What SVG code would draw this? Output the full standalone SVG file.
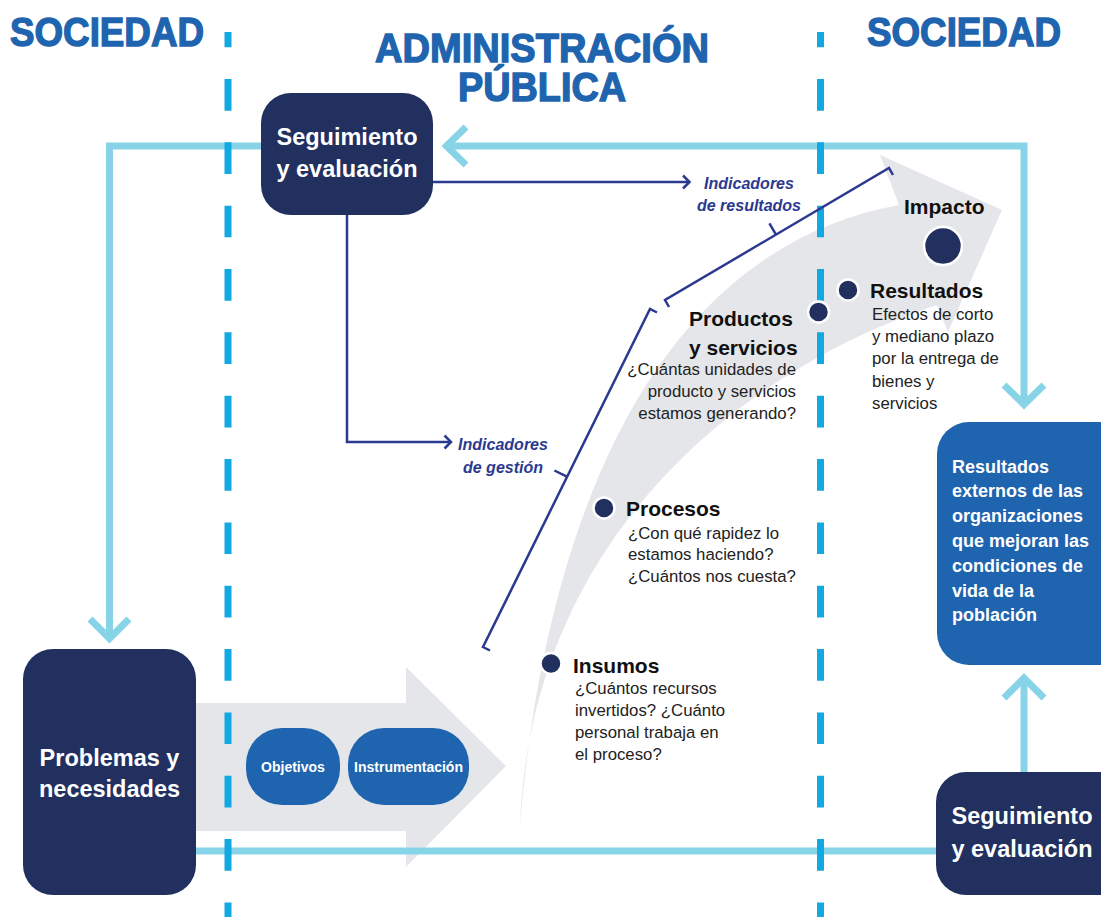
<svg xmlns="http://www.w3.org/2000/svg" width="1101" height="917" viewBox="0 0 1101 917">
<style>
.lb{stroke:#87D3E8;stroke-width:7;fill:none}
.dash{stroke:#12A8E1;stroke-width:7;stroke-dasharray:31.67 31.67;fill:none}
.db{stroke:#2B3990;stroke-width:2.5;fill:none}
.navy{fill:#21305F}
.blue{fill:#1F64AE}
.gray{fill:#E5E6EA}
.title{font-family:"Liberation Sans",Arial,sans-serif;font-weight:700;fill:#1F64AE;stroke:#1F64AE;stroke-width:1.4;font-size:41px}
.wb{font-family:"Liberation Sans",Arial,sans-serif;font-weight:700;fill:#FFFFFF}
.kb{font-family:"Liberation Sans",Arial,sans-serif;font-weight:700;fill:#111111;font-size:21px}
.kr{font-family:"Liberation Sans",Arial,sans-serif;font-weight:400;fill:#222222;font-size:16.8px}
.ind{font-family:"Liberation Sans",Arial,sans-serif;font-weight:700;font-style:italic;fill:#2B3990;font-size:16px}
.dot{fill:#21305F;stroke:#FFFFFF;stroke-width:2.5}
</style>

<g id="titles">
<text class="title" x="10" y="46" textLength="194" lengthAdjust="spacingAndGlyphs">SOCIEDAD</text>
<text class="title" x="867" y="46" textLength="194" lengthAdjust="spacingAndGlyphs">SOCIEDAD</text>
<text class="title" x="375" y="62" textLength="334" lengthAdjust="spacingAndGlyphs">ADMINISTRACIÓN</text>
<text class="title" x="458" y="101" textLength="168" lengthAdjust="spacingAndGlyphs">PÚBLICA</text>
</g>

<g id="shapes">
<polygon class="gray" points="196,703 406,703 406,667 506,766 406,867 406,831 196,831"/>
<path class="gray" d="M520,826 C535,640 600,260 899,205 L880,155 L1002,210 L948,332 L937,305 C740,370 530,540 520,826 Z"/>
</g>

<g id="connectors">
<path class="lb" d="M261,146 H109.5 V637"/>
<polyline class="lb" points="90,619 109.5,638.5 129,619"/>
<path class="lb" d="M449,146 H1024 V403"/>
<polyline class="lb" points="466,127 446.5,146 466,165"/>
<polyline class="lb" points="1004,385 1024,404.5 1044,385"/>
<path class="lb" d="M196,851 H937"/>
<path class="lb" d="M1024,772 V680"/>
<polyline class="lb" points="1004,698 1024,678 1044,698"/>

<line class="dash" x1="228" y1="32" x2="228" y2="917" stroke-dashoffset="16.33"/>
<line class="dash" x1="820.5" y1="32" x2="820.5" y2="917" stroke-dashoffset="16.33"/>

<path class="db" d="M433,182 H689"/>
<polyline class="db" points="683,175.5 689.5,182 683,188.5"/>
<path class="db" d="M347,215 V442 H451"/>
<polyline class="db" points="444.5,435.5 451,442 444.5,448.5"/>

<polyline class="db" points="669,307 665,300 889,168 893,175"/>
<line class="db" x1="776" y1="234.6" x2="769.4" y2="223.3"/>
<polyline class="db" points="490,650.5 483,647 650,309 657,312.5"/>
<line class="db" x1="567" y1="476.7" x2="554.4" y2="470.5"/>
</g>

<g id="seguimiento-top">
<rect class="navy" x="261" y="93" width="172" height="122" rx="30"/>
<text class="wb" x="347" y="145" font-size="23.5" text-anchor="middle">Seguimiento</text>
<text class="wb" x="347" y="177" font-size="23.5" text-anchor="middle">y evaluación</text>
</g>

<g id="indicadores-resultados">
<text class="ind" x="749" y="189" text-anchor="middle">Indicadores</text>
<text class="ind" x="749" y="211" text-anchor="middle">de resultados</text>
</g>

<g id="indicadores-gestion">
<text class="ind" x="503" y="450" text-anchor="middle">Indicadores</text>
<text class="ind" x="503" y="472.5" text-anchor="middle">de gestión</text>
</g>

<g id="problemas">
<rect class="navy" x="23" y="649" width="173" height="246" rx="30"/>
<text class="wb" x="109.5" y="766" font-size="23.5" text-anchor="middle">Problemas y</text>
<text class="wb" x="109.5" y="797" font-size="23.5" text-anchor="middle">necesidades</text>
</g>

<g id="objetivos">
<rect class="blue" x="246" y="728" width="94" height="77" rx="36"/>
<text class="wb" x="293" y="772" font-size="14" text-anchor="middle">Objetivos</text>
</g>

<g id="instrumentacion">
<rect class="blue" x="348" y="728" width="121" height="77" rx="36"/>
<text class="wb" x="408.5" y="772" font-size="14" text-anchor="middle">Instrumentación</text>
</g>

<g id="impacto">
<circle class="dot" cx="943" cy="246" r="19"/>
<text class="kb" x="904" y="214">Impacto</text>
</g>

<g id="resultados">
<circle class="dot" cx="848" cy="290" r="10.5"/>
<text class="kb" x="870" y="298">Resultados</text>
<text class="kr" x="872" y="319.5">Efectos de corto</text>
<text class="kr" x="872" y="342">y mediano plazo</text>
<text class="kr" x="872" y="364">por la entrega de</text>
<text class="kr" x="872" y="386.5">bienes y</text>
<text class="kr" x="872" y="408.5">servicios</text>
</g>

<g id="productos">
<circle class="dot" cx="818.5" cy="312" r="10.5"/>
<text class="kb" x="689" y="326">Productos</text>
<text class="kb" x="689" y="355">y servicios</text>
<text class="kr" x="796" y="375" text-anchor="end">¿Cuántas unidades de</text>
<text class="kr" x="796" y="397" text-anchor="end">producto y servicios</text>
<text class="kr" x="796" y="418.5" text-anchor="end">estamos generando?</text>
</g>

<g id="procesos">
<circle class="dot" cx="604" cy="508" r="10.5"/>
<text class="kb" x="626" y="516">Procesos</text>
<text class="kr" x="628" y="538.5">¿Con qué rapidez lo</text>
<text class="kr" x="628" y="560">estamos haciendo?</text>
<text class="kr" x="628" y="582">¿Cuántos nos cuesta?</text>
</g>

<g id="insumos">
<circle class="dot" cx="551" cy="663.5" r="10.5"/>
<text class="kb" x="573" y="673">Insumos</text>
<text class="kr" x="575" y="694">¿Cuántos recursos</text>
<text class="kr" x="575" y="716">invertidos? ¿Cuánto</text>
<text class="kr" x="575" y="738">personal trabaja en</text>
<text class="kr" x="575" y="760">el proceso?</text>
</g>

<g id="resultados-externos">
<rect class="blue" x="937" y="422" width="200" height="243" rx="32"/>
<text class="wb" font-size="18" x="952" y="472.5">Resultados</text>
<text class="wb" font-size="18" x="952" y="497.3">externos de las</text>
<text class="wb" font-size="18" x="952" y="522.1">organizaciones</text>
<text class="wb" font-size="18" x="952" y="546.9">que mejoran las</text>
<text class="wb" font-size="18" x="952" y="571.7">condiciones de</text>
<text class="wb" font-size="18" x="952" y="596.5">vida de la</text>
<text class="wb" font-size="18" x="952" y="621.3">población</text>
</g>

<g id="seguimiento-bottom">
<rect class="navy" x="936" y="772" width="200" height="123" rx="30"/>
<text class="wb" x="1022" y="824" font-size="23.5" text-anchor="middle">Seguimiento</text>
<text class="wb" x="1022" y="857" font-size="23.5" text-anchor="middle">y evaluación</text>
</g>
</svg>
